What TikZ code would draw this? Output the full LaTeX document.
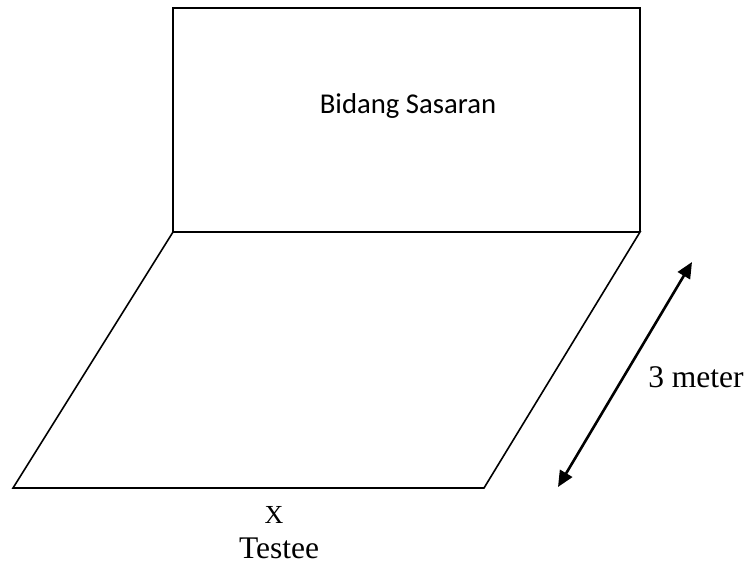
\documentclass[tikz,border=0pt]{standalone}
\usepackage{fontspec}
\setmainfont{Liberation Serif}
\newfontfamily\calibrifont{Carlito}
\usetikzlibrary{arrows.meta}
\tikzset{
  shape line/.style={line width=1.6pt, line join=miter},
  dim arrow/.style={line width=2.6pt, {Triangle[length=16pt,width=14pt]}-{Triangle[length=16pt,width=14pt]}},
  serif label/.style={inner sep=0pt, anchor=base, font=\fontsize{31.5}{38}\selectfont},
  target label/.style={inner sep=0pt, anchor=base, font=\calibrifont\fontsize{28.7}{34}\selectfont}
}
\begin{document}
\begin{tikzpicture}[x=1pt,y=-1pt]
\useasboundingbox (0,0) rectangle (751,573);
% corners
\coordinate (rtl) at (173,8);
\coordinate (rtr) at (640,8);
\coordinate (fl) at (173,232);
\coordinate (fr) at (640,232);
\coordinate (br) at (484,488);
\coordinate (bl) at (13,488);
% target wall
\draw[shape line] (fl) -- (rtl) -- (rtr) -- (fr);
% floor
\draw[shape line] (fl) -- (fr) -- (br) -- (bl) -- cycle;
% dimension arrow
\coordinate (abot) at (558,487);
\coordinate (atop) at (692,262);
\draw[dim arrow] (abot) -- (atop);
% labels
\node[target label] (target) at (408,113) {Bidang Sasaran};
\node[serif label] (dist) at (696,387) {3 meter};
\node[inner sep=0pt, anchor=base, font=\fontsize{26}{31}\selectfont] (x) at (274,523) {X};
\node[serif label] (testee) at (279,558) {Testee};
\end{tikzpicture}
\end{document}
